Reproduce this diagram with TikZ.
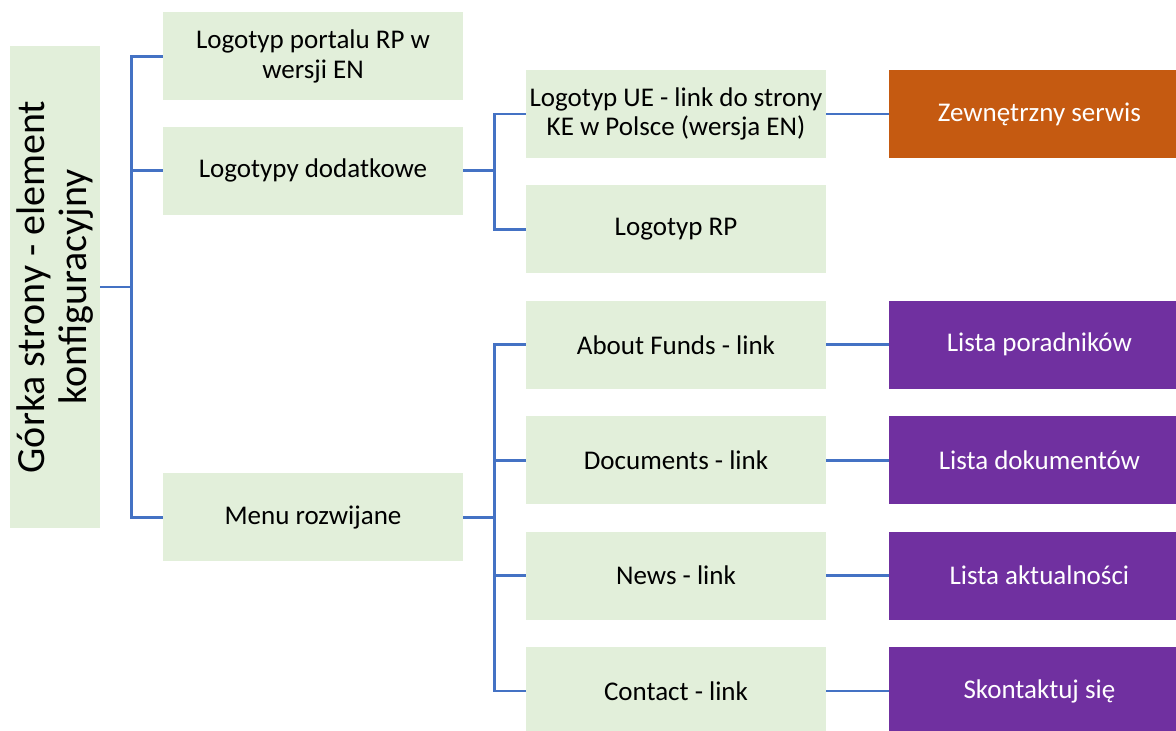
\documentclass[tikz,border=0pt]{standalone}
\usepackage{fontspec}
\setmainfont{Carlito}
\usetikzlibrary{positioning}
\definecolor{boxgreen}{HTML}{E2EFDA}
\definecolor{linkblue}{HTML}{4472C4}
\definecolor{serwisorange}{HTML}{C55A11}
\definecolor{listpurple}{HTML}{7030A0}
\tikzset{
  item/.style={rectangle,fill=boxgreen,minimum width=300pt,minimum height=88pt,
    inner sep=0pt,align=center,font=\fontsize{27}{29.5}\selectfont},
  target/.style={item,fill=listpurple,text=white},
  extern/.style={target,fill=serwisorange},
  conn/.style={draw=linkblue,line width=2.8pt}
}

\begin{document}
\begin{tikzpicture}[x=1pt,y=1pt,node distance=27pt]
  \useasboundingbox (0,0) rectangle (1176,731);
  % root
  \node[item,rotate=90,minimum width=482pt,minimum height=90pt,
        font=\fontsize{40}{42}\selectfont] (root) at (55,444)
        {Górka strony - element\\konfiguracyjny};
  % level 1
  \node[item] (portal) at (313,674.5) {Logotyp portalu RP w\\wersji EN};
  \node[item,below=26pt of portal] (extra) {Logotypy dodatkowe};
  \node[item] (menu) at (313,213.5) {Menu rozwijane};
  % level 2
  \node[item] (ue) at (676,617) {Logotyp UE - link do strony\\KE w Polsce (wersja EN)};
  \node[item,below=of ue] (rp) {Logotyp RP};
  \node[item,below=of rp] (about) {About Funds - link};
  \node[item,below=of about] (docs) {Documents - link};
  \node[item,below=of docs] (news) {News - link};
  \node[item,below=of news] (contact) {Contact - link};
  % level 3
  \node[extern,right=63pt of ue] (serwis) {Zewnętrzny serwis};
  \node[target,right=63pt of about] (poradniki) {Lista poradników};
  \node[target,right=63pt of docs] (dokumenty) {Lista dokumentów};
  \node[target,right=63pt of news] (aktualnosci) {Lista aktualności};
  \node[target,right=63pt of contact] (kontakt) {Skontaktuj się};

  \draw[conn] (root.south) -- ++(31,0) |- (portal.west);
  \draw[conn] (root.south) -- ++(31,0) |- (extra.west);
  \draw[conn] (root.south) -- ++(31,0) |- (menu.west);

  \draw[conn] (extra.east) -- ++(31,0) |- (ue.west);
  \draw[conn] (extra.east) -- ++(31,0) |- (rp.west);

  \draw[conn] (menu.east) -- ++(31,0) |- (about.west);
  \draw[conn] (menu.east) -- ++(31,0) |- (docs.west);
  \draw[conn] (menu.east) -- ++(31,0) |- (news.west);
  \draw[conn] (menu.east) -- ++(31,0) |- (contact.west);

  \draw[conn] (ue.east) -- (serwis.west);
  \draw[conn] (about.east) -- (poradniki.west);
  \draw[conn] (docs.east) -- (dokumenty.west);
  \draw[conn] (news.east) -- (aktualnosci.west);
  \draw[conn] (contact.east) -- (kontakt.west);
\end{tikzpicture}
\end{document}
